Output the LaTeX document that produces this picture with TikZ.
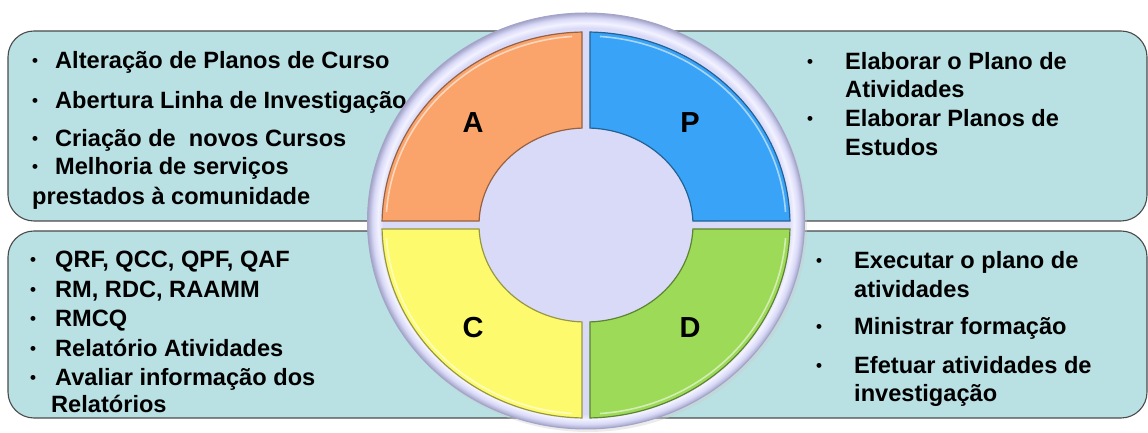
\documentclass[tikz,border=0pt]{standalone}
\usepackage{fontspec}
\setmainfont{Liberation Sans}
\usepackage{tikz}
\usetikzlibrary{positioning}
\definecolor{PanelFill}{HTML}{B9E0E3}
\definecolor{PanelLine}{HTML}{4A4A4A}
\definecolor{ActOrange}{HTML}{FAA46C}
\definecolor{PlanBlue}{HTML}{39A3F7}
\definecolor{CheckYellow}{HTML}{FDFB6D}
\definecolor{DoGreen}{HTML}{9CDA57}
\definecolor{RingLav}{HTML}{D9D9F8}
\definecolor{RingLight}{HTML}{F2F2FF}
\definecolor{RingEdge}{HTML}{A4A4C8}

% bevelled rim of the wheel
\pgfdeclareradialshading{ringshade}{\pgfpointorigin}{%
  color(0bp)=(RingLav); color(23.2bp)=(RingLav); color(23.8bp)=(RingLight);
  color(24.4bp)=(RingLav); color(25bp)=(RingEdge); color(50bp)=(RingEdge)}

% one quarter of the wheel, upper right, centre at the origin
\newcommand{\quarterpath}{(1.19:204 and 193)
  arc[start angle=1.19, end angle=88.88, x radius=204, y radius=193]
  -- (87.86:107 and 97)
  arc[start angle=87.86, end angle=2.36, x radius=107, y radius=97] -- cycle}
\newcommand{\quarterrim}{(4:200 and 189)
  arc[start angle=4, end angle=86, x radius=200, y radius=189]}
\newcommand{\bul}[1]{\makebox[#1][l]{\raisebox{2.2pt}{\scalebox{0.72}{\textbullet}}}}

\begin{document}
\begin{tikzpicture}[
    x=1pt, y=1pt,
    panel/.style={
      draw=PanelLine,
      fill=PanelFill,
      line width=1.1pt,
      rounded corners=26pt
    },
    item/.style={
      anchor=base west,
      inner sep=0pt,
      font=\fontsize{23.6}{27}\selectfont\bfseries
    },
    letter/.style={
      inner sep=0pt,
      font=\fontsize{29}{31}\selectfont\bfseries
    },
    quarter/.style={
      fill=#1,
      draw=#1!60!black,
      line width=1.2pt
    },
    rim/.style={
      draw=#1!45!white,
      line width=1.6pt
    }
  ]
  \useasboundingbox (0,0) rectangle (1148,433);

  % the two panels behind the wheel
  \draw[panel] (8,212) rectangle (1147,402);
  \draw[panel] (8,15) rectangle (1147,202);

  % Act
  \node[item] (act1) at (32,364) {\bul{23pt}Alteração de Planos de Curso};
  \node[item] (act2) at (32,324) {\bul{23pt}Abertura Linha de Investigação};
  \node[item] (act3) at (32,286) {\bul{23pt}Criação de\ \ novos Cursos};
  \node[item] (act4) at (32,258) {\bul{23pt}Melhoria de serviços};
  \node[item] (act5) at (32,228) {prestados à comunidade};

  % Check
  \node[item] (chk1) at (30,165) {\bul{25pt}QRF, QCC, QPF, QAF};
  \node[item] (chk2) at (30,135) {\bul{25pt}RM, RDC, RAAMM};
  \node[item] (chk3) at (30,106) {\bul{25pt}RMCQ};
  \node[item] (chk4) at (30,76) {\bul{25pt}Relatório Atividades};
  \node[item] (chk5) at (30,47) {\bul{25pt}Avaliar informação dos};
  \node[item] (chk6) at (51,20) {Relatórios};

  % Plan
  \node[item] (plan1) at (807,363) {\bul{38pt}Elaborar o Plano de};
  \node[item] (plan2) at (845,335) {Atividades};
  \node[item] (plan3) at (807,306) {\bul{38pt}Elaborar Planos de};
  \node[item] (plan4) at (845,277) {Estudos};

  % Do
  \node[item] (do1) at (816,164) {\bul{38pt}Executar o plano de};
  \node[item] (do2) at (854,135) {atividades};
  \node[item] (do3) at (816,98) {\bul{38pt}Ministrar formação};
  \node[item] (do4) at (816,59) {\bul{38pt}Efetuar atividades de};
  \node[item] (do5) at (854,31) {investigação};

  % the wheel
  \fill[black!20, opacity=0.4] (588,209) ellipse [x radius=219, y radius=208];
  \draw[RingEdge, line width=1pt, shading=ringshade]
    (586,212) ellipse [x radius=218.5, y radius=208];
  \begin{scope}[shift={(586,208)}]
    \draw[quarter=PlanBlue] \quarterpath;
    \draw[rim=PlanBlue] \quarterrim;
    \draw[quarter=ActOrange, xscale=-1] \quarterpath;
    \draw[rim=ActOrange, xscale=-1] \quarterrim;
    \draw[quarter=DoGreen, yscale=-1] \quarterpath;
    \draw[rim=DoGreen, yscale=-1] \quarterrim;
    \draw[quarter=CheckYellow, xscale=-1, yscale=-1] \quarterpath;
    \draw[rim=CheckYellow, xscale=-1, yscale=-1] \quarterrim;
  \end{scope}

  \node[letter] (A) at (473,310) {A};
  \node[letter] (P) at (690,310) {P};
  \node[letter] (C) at (473,105) {C};
  \node[letter] (D) at (690,105) {D};

\end{tikzpicture}
\end{document}
